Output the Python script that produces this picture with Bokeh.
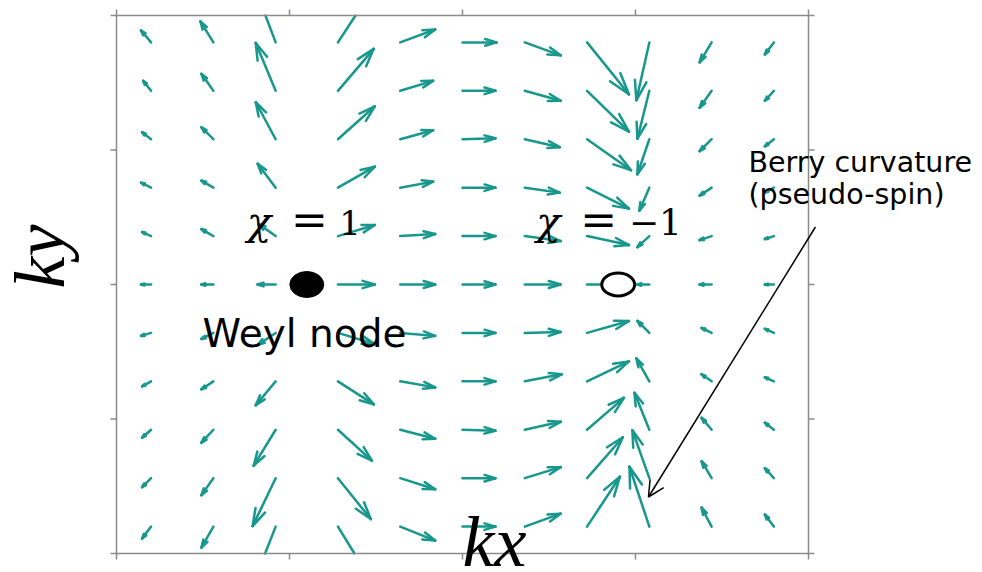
import math

from bokeh.embed import file_html
from bokeh.models import Arrow, Label, OpenHead, Range1d
from bokeh.plotting import figure
from bokeh.resources import INLINE

# Sampling grid of the pseudo-spin field (columns along kx, rows along ky, top row first)
kx_grid = [-1.8, -1.44, -1.08, -0.72, -0.36, 0.0, 0.36, 0.72, 1.08, 1.44, 1.8]
ky_grid = [1.8, 1.44, 1.08, 0.72, 0.36, 0.0, -0.36, -0.72, -1.08, -1.44, -1.8]

# kx component of the Berry curvature, one list per row
u_rows = [
    [-0.058, -0.075, -0.127, 0.207, 0.202, 0.196, 0.207, 0.242, -0.075, -0.069, -0.052],
    [-0.046, -0.069, -0.115, 0.207, 0.190, 0.190, 0.207, 0.242, -0.069, -0.069, -0.052],
    [-0.052, -0.069, -0.115, 0.213, 0.190, 0.190, 0.202, 0.254, -0.069, -0.069, -0.052],
    [-0.058, -0.069, -0.104, 0.213, 0.190, 0.190, 0.202, 0.242, -0.058, -0.069, -0.052],
    [-0.052, -0.069, -0.098, 0.213, 0.202, 0.190, 0.207, 0.242, -0.069, -0.069, -0.052],
    [-0.058, -0.069, -0.104, 0.213, 0.202, 0.190, 0.207, 0.242, -0.069, -0.069, -0.052],
    [-0.058, -0.069, -0.104, 0.213, 0.202, 0.190, 0.207, 0.242, -0.069, -0.058, -0.052],
    [-0.052, -0.069, -0.115, 0.207, 0.202, 0.190, 0.213, 0.242, -0.075, -0.058, -0.052],
    [-0.052, -0.069, -0.127, 0.196, 0.202, 0.190, 0.207, 0.213, -0.086, -0.058, -0.052],
    [-0.052, -0.069, -0.133, 0.190, 0.202, 0.190, 0.207, 0.207, -0.098, -0.058, -0.052],
    [-0.052, -0.069, -0.127, 0.184, 0.202, 0.190, 0.207, 0.190, -0.115, -0.058, -0.052],
]

# ky component of the Berry curvature, one list per row
v_rows = [
    [0.089, 0.156, 0.430, 0.408, 0.096, 0.0, -0.096, -0.386, -0.430, -0.148, -0.089],
    [0.074, 0.126, 0.356, 0.312, 0.074, 0.0, -0.074, -0.304, -0.356, -0.126, -0.074],
    [0.052, 0.089, 0.275, 0.245, 0.067, 0.007, -0.059, -0.230, -0.260, -0.089, -0.052],
    [0.037, 0.052, 0.178, 0.156, 0.045, 0.0, -0.037, -0.156, -0.171, -0.059, -0.037],
    [0.030, 0.052, 0.089, 0.082, 0.015, 0.0, -0.037, -0.067, -0.082, -0.030, -0.022],
    [0.0, 0.0, 0.0, 0.0, 0.0, 0.0, 0.0, 0.0, 0.0, 0.0, 0.0],
    [-0.022, -0.045, -0.089, -0.082, -0.022, 0.0, 0.007, 0.089, 0.089, 0.037, 0.030],
    [-0.037, -0.059, -0.178, -0.171, -0.045, 0.0, 0.052, 0.148, 0.171, 0.052, 0.030],
    [-0.059, -0.096, -0.267, -0.230, -0.067, -0.007, 0.059, 0.237, 0.275, 0.089, 0.052],
    [-0.067, -0.126, -0.356, -0.304, -0.082, 0.0, 0.082, 0.304, 0.356, 0.126, 0.074],
    [-0.089, -0.156, -0.416, -0.386, -0.104, 0.0, 0.096, 0.371, 0.445, 0.141, 0.089],
]

# Weyl nodes on the kx axis: chirality +1 (filled) and -1 (open)
node_kx = [-0.9, 0.9]
node_ky = [0.0, 0.0]

# Axis box and its tick marks
box_lo, box_hi = -2.0, 2.0
ticks = [-2, -1, 0, 1, 2]

W, H = 982, 572
BOX_LEFT, BOX_RIGHT, BOX_TOP, BOX_BOTTOM = 116, 808, 15, 553   # canvas pixels of the box
SX = (BOX_RIGHT - BOX_LEFT) / (box_hi - box_lo)   # pixels per kx unit
SY = (BOX_BOTTOM - BOX_TOP) / (box_hi - box_lo)   # pixels per ky unit

TEAL = "#18978d"
FRAME = "#8a8a8a"

p = figure(
    width=W, height=H,
    x_range=Range1d(box_lo - BOX_LEFT / SX, box_hi + (W - BOX_RIGHT) / SX),
    y_range=Range1d(box_lo - (H - BOX_BOTTOM) / SY, box_hi + BOX_TOP / SY),
    x_axis_location=None, y_axis_location=None,
    min_border=0, output_backend="svg", toolbar_location=None,
    background_fill_color="white", border_fill_color="white",
)
p.grid.visible = False
p.outline_line_color = None


def clip(x0, y0, x1, y1, lo=box_lo, hi=box_hi):
    """Liang-Barsky clip of a segment to the square axis box."""
    dx, dy = x1 - x0, y1 - y0
    t0, t1 = 0.0, 1.0
    for pp, q in ((-dx, x0 - lo), (dx, hi - x0), (-dy, y0 - lo), (dy, hi - y0)):
        if pp == 0:
            if q < 0:
                return None
            continue
        r = q / pp
        if pp < 0:
            t0 = max(t0, r)
        else:
            t1 = min(t1, r)
        if t0 > t1:
            return None
    return x0 + t0 * dx, y0 + t0 * dy, x0 + t1 * dx, y0 + t1 * dy


# Quiver: shafts from each grid point, open arrowheads sized with the vector
ALPHA, BETA = 0.33, 0.30
segs = []
for j, ky in enumerate(ky_grid):
    for i, kx in enumerate(kx_grid):
        u, v = u_rows[j][i], v_rows[j][i]
        tx, ty = kx + u, ky + v
        segs.append((kx, ky, tx, ty))
        pu, pv = u * SX, v * SY
        for s in (1, -1):
            bx = tx - ALPHA * (pu + s * BETA * pv) / SX
            by = ty - ALPHA * (pv - s * BETA * pu) / SY
            segs.append((tx, ty, bx, by))

clipped = [c for c in (clip(*sg) for sg in segs) if c is not None]
p.segment(x0=[c[0] for c in clipped], y0=[c[1] for c in clipped],
          x1=[c[2] for c in clipped], y1=[c[3] for c in clipped],
          line_color=TEAL, line_width=2.5, line_cap="round")

# Axis box with outward ticks on all four sides
p.rect(x=[(box_lo + box_hi) / 2], y=[(box_lo + box_hi) / 2],
       width=box_hi - box_lo, height=box_hi - box_lo,
       fill_color=None, line_color=FRAME, line_width=1.5)
TL = 6
p.segment(x0=ticks, y0=[box_lo] * len(ticks), x1=ticks, y1=[box_lo - TL / SY] * len(ticks),
          line_color=FRAME, line_width=1.5)
p.segment(x0=ticks, y0=[box_hi] * len(ticks), x1=ticks, y1=[box_hi + TL / SY] * len(ticks),
          line_color=FRAME, line_width=1.5)
p.segment(x0=[box_lo] * len(ticks), y0=ticks, x1=[box_lo - TL / SX] * len(ticks), y1=ticks,
          line_color=FRAME, line_width=1.5)
p.segment(x0=[box_hi] * len(ticks), y0=ticks, x1=[box_hi + TL / SX] * len(ticks), y1=ticks,
          line_color=FRAME, line_width=1.5)

# Weyl nodes
p.ellipse(x=[node_kx[0]], y=[node_ky[0]], width=0.196, height=0.193,
          fill_color="black", line_color="black")
p.ellipse(x=[node_kx[1]], y=[node_ky[1]], width=0.19, height=0.17,
          fill_color="white", line_color="black", line_width=3)

# Labels are anchored at the middle of their text box; this moves the anchor
# from the wanted baseline up to that middle.
MID = 0.36


def label(x, y, text, font, size, style="normal", angle=0.0):
    if angle:
        x -= MID * size / SX
    else:
        y += MID * size / SY
    p.add_layout(Label(x=x, y=y, text=text, text_font=font, text_font_style=style,
                       text_font_size=f"{size}px", text_color="black",
                       text_baseline="alphabetic", angle=angle))


serif = "DejaVu Serif"
sans = "DejaVu Sans"
# chirality of each node
label(-1.245, 0.368, "χ", serif, 40, "italic")
label(-0.992, 0.368, "=", serif, 44)
label(-0.712, 0.368, "1", serif, 34)
label(0.427, 0.368, "χ", serif, 40, "italic")
label(0.680, 0.368, "=", serif, 44)
label(0.962, 0.368, "−1", serif, 36)

label(-1.503, -0.472, "Weyl node", sans, 39)
label(1.653, 0.829, "Berry curvature", sans, 28.5)
label(1.653, 0.596, "(pseudo-spin)", sans, 28.5)

p.add_layout(Arrow(end=OpenHead(size=16, line_width=1.5, line_color="black"),
                   x_start=2.040, y_start=0.4275, x_end=1.075, y_end=-1.58,
                   line_width=1.5, line_color="black"))

# Axis names
label(0.0, -2.11, "kx", "Liberation Serif", 72, "italic")
label(-2.29, -0.03, "ky", "Liberation Serif", 72, "italic", angle=math.pi / 2)

open("out.html", "w").write(file_html(p, INLINE))
